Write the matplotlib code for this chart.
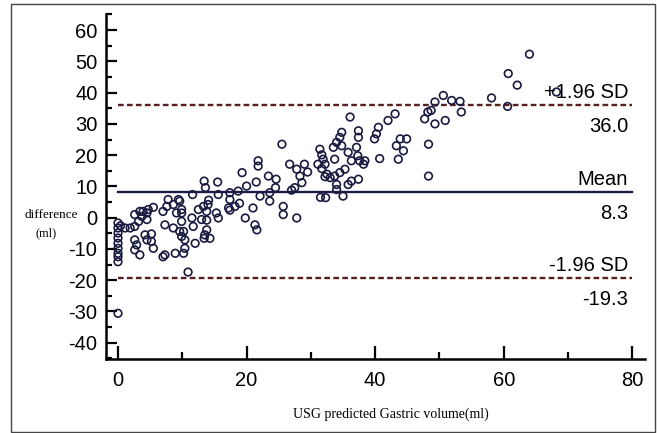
import matplotlib
matplotlib.use("Agg")
from matplotlib import pyplot as plt
from matplotlib.patches import Rectangle
from matplotlib.ticker import MultipleLocator

usg_volume = [
    0, 0.4, 0, 0, 0, 0, 0, 0, 0, 0, 0,
    1.1, 1.9, 2.6, 3.2, 3.7, 3.9, 4.7, 5.5, 2.6, 3.4, 4.5, 4.5, 2.6, 2.9,
    2.6, 3.4, 4.2, 5.2, 4.5, 5.2, 5.5,
    7.0, 7.6, 8.6, 9.1, 9.9, 7.3, 8.6, 9.6, 9.9, 10.2, 7.0, 7.3, 8.9, 10.4,
    10.4, 10.2, 9.9, 9.6, 9.9, 7.8, 9.4, 10.9,
    11.5, 11.7, 12.5, 13.3, 13.0, 12.0, 13.5, 14.0, 13.8, 14.3, 13.4, 15.6,
    15.3, 13.4, 13.6, 15.5, 15.6, 11.6, 14.1, 13.8, 13.8,
    17.2, 18.2, 18.9, 19.8, 21.3, 21.6, 21.0, 21.8, 21.8, 19.3, 21.5, 20.0,
    18.7, 22.1, 17.4, 17.4, 17.4,
    23.6, 25.7, 25.7, 27.8, 25.5, 23.4, 24.6, 24.5, 23.6, 26.7, 27.8, 29.0,
    29.5, 28.3, 28.6, 27.5, 27.0,
    31.4, 31.7, 31.1, 31.7, 32.2, 32.2, 31.5,
    36.1, 34.8, 34.5, 34.0, 33.5, 34.8, 37.4, 37.4, 37.1, 37.3, 35.8, 36.3,
    37.6, 38.4, 38.2, 31.9, 32.5, 33.0, 33.7, 34.5, 35.3, 33.7, 37.4, 36.3,
    35.8, 34.0, 34.0, 35.0, 32.3,
    40.5, 40.2, 39.9, 40.7, 42.0, 43.1, 43.9, 44.9, 43.3, 44.4, 43.6, 48.3,
    48.3, 47.7, 48.2, 48.7, 49.3, 50.6, 51.9, 53.2, 53.4, 49.3, 50.9,
    64.0, 60.7, 62.1, 58.1, 60.6, 68.2,
]
difference = [
    -1.7, -2.6, -3.3, -4.9, -6.5, -8.2, -9.8, -11.4, -12.5, -14.1, -30.6,
    -3.3, -3.3, -2.8, -1.2, 0.4, 2.0, 2.6, 3.3, 1.0, 2.0, 1.5, -0.6, -7.1, -8.7,
    -10.3, -11.9, -5.5, -5.2, -7.1, -7.6, -9.8,
    2.0, 3.6, 4.2, 1.5, 1.5, -2.3, -3.3, -4.4, -6.0, -11.4, -12.5, -11.9, -11.4, -9.8,
    -7.1, -4.4, -1.2, 5.3, 2.6, 5.8, 5.8, -17.4,
    -0.1, -2.8, 2.6, 3.6, -0.6, -8.2, -5.5, 4.2, -3.9, -6.6, -6.6, -0.1,
    1.5, 11.7, 9.6, 11.4, 7.4, 7.4, 5.6, 2.0, -0.8,
    3.1, 3.6, 4.6, -0.1, -2.3, -3.9, 3.1, 18.2, 16.5, 14.4, 11.4, 10.1,
    8.5, 6.9, 8.0, 5.8, 2.4,
    5.3, 3.6, 1.0, -0.1, 23.5, 13.3, 12.3, 9.6, 8.0, 17.1, 15.5, 17.1,
    14.6, 13.3, 11.2, 9.6, 8.8,
    21.9, 20.1, 17.1, 15.7, 13.1, 17.1, 6.5,
    32.2, 27.3, 25.7, 24.1, 22.5, 23.0, 27.8, 25.7, 22.5, 19.8, 20.9, 18.2,
    18.2, 18.2, 17.1, 18.7, 13.9, 12.8, 13.3, 14.4, 15.5, 18.7, 12.3, 11.7,
    10.6, 10.6, 9.0, 6.9, 6.4,
    28.9, 26.8, 25.2, 18.9, 31.1, 33.2, 25.2, 25.2, 23.0, 21.4, 18.7, 23.5,
    13.3, 31.6, 33.8, 34.3, 37.0, 39.1, 37.5, 37.2, 33.8, 30.0, 31.1,
    52.3, 46.1, 42.4, 38.3, 35.6, 40.2,
]

limit_values = [36.0, 8.3, -19.3]
limit_names = ["+1.96 SD", "Mean", "-1.96 SD"]
limit_texts = ["36.0", "8.3", "-19.3"]
limit_styles = ["--", "-", "--"]
limit_colors = ["#5a1e1e", "#1c1c4c", "#5a1e1e"]

plt.rcParams['font.family'] = ['Liberation Sans', 'DejaVu Sans']
plt.rcParams['axes.unicode_minus'] = False

fig = plt.figure(figsize=(6.57, 4.33), dpi=100)
ax = fig.add_axes([0.161, 0.171, 0.821, 0.797])

ax.scatter(usg_volume, difference, s=30, facecolors='none',
           edgecolors='#1a1a40', linewidths=1.2, zorder=3)

for value, name, text, style, color in zip(limit_values, limit_names,
                                           limit_texts, limit_styles,
                                           limit_colors):
    line, = ax.plot([0, 80], [value, value], linestyle=style, color=color,
                    lw=1.7, zorder=2)
    if style == "--":
        line.set_dashes((2.4, 1.4))
    ax.annotate(name, xy=(80, value), xytext=(-3, 5),
                textcoords='offset points', ha='right', va='baseline',
                fontsize=14.5)
    ax.annotate(text, xy=(80, value), xytext=(-3, -19.5),
                textcoords='offset points', ha='right', va='baseline',
                fontsize=14.5)

ax.set_xlim(-1.9, 82)
ax.set_ylim(-45.2, 65.2)
ax.xaxis.set_major_locator(MultipleLocator(20))
ax.xaxis.set_minor_locator(MultipleLocator(10))
ax.yaxis.set_major_locator(MultipleLocator(10))
ax.yaxis.set_minor_locator(MultipleLocator(5))

for side in ['top', 'right']:
    ax.spines[side].set_visible(False)
for side in ['left', 'bottom']:
    ax.spines[side].set_linewidth(1.8)

ax.tick_params(axis='both', which='major', direction='in', width=1.6,
               labelsize=14.5)
ax.tick_params(axis='y', which='major', length=8, pad=6)
ax.tick_params(axis='y', which='minor', direction='in', length=4.5, width=1.6)
ax.tick_params(axis='x', which='major', length=9.5, pad=9)
ax.tick_params(axis='x', which='minor', direction='in', length=5, width=1.6)

serif = ['Liberation Serif', 'DejaVu Serif']
fig.text(0.078, 0.503, "difference", family=serif, fontsize=9.5,
         ha='center', va='center')
fig.text(0.070, 0.462, "(ml)", family=serif, fontsize=9,
         ha='center', va='center')
fig.text(0.595, 0.044, "USG predicted Gastric volume(ml)", family=serif,
         fontsize=10, ha='center', va='center')

fig.patches.append(Rectangle((11 / 657, 1 - 432 / 433), 644 / 657, 428 / 433,
                             transform=fig.transFigure, fill=False,
                             edgecolor='#444444', linewidth=1.0))

fig.savefig("out.png", dpi=100)
